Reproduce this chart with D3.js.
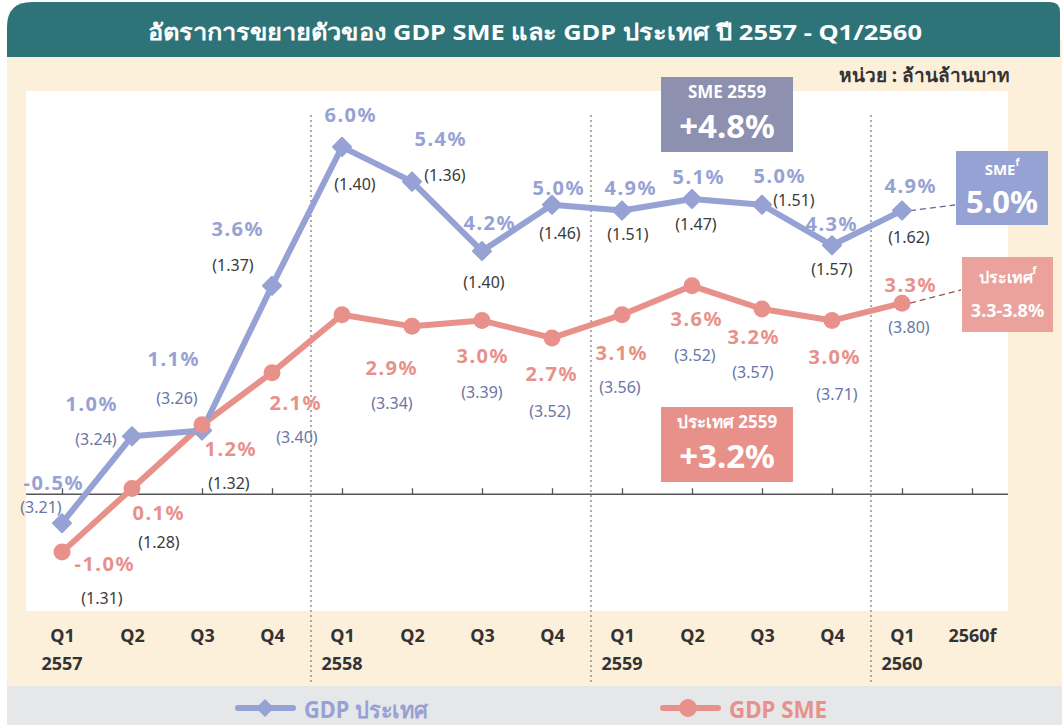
<!DOCTYPE html>
<html>
<head>
<meta charset="utf-8">
<script src="https://cdn.jsdelivr.net/npm/d3@7"></script>
<style>
  html, body { margin: 0; padding: 0; background: #fff; }
  svg { display: block; }
  text { font-family: "Noto Sans", "Open Sans", sans-serif; }
  .cond { font-family: "Liberation Sans Narrow", "Noto Sans", sans-serif; }
</style>
</head>
<body>
<svg id="chart" width="1062" height="725"></svg>
<script>
// ---- data ----
const quarters = ["Q1", "Q2", "Q3", "Q4", "Q1", "Q2", "Q3", "Q4", "Q1", "Q2", "Q3", "Q4", "Q1", "2560f"];
const years = ["2557", "", "", "", "2558", "", "", "", "2559", "", "", "", "2560", ""];
// SME growth (%) and SME GDP (trillion baht)
const smeGrowth = [-0.5, 1.0, 1.1, 3.6, 6.0, 5.4, 4.2, 5.0, 4.9, 5.1, 5.0, 4.3, 4.9];
const smeValue = [1.31, 1.28, 1.32, 1.37, 1.40, 1.36, 1.40, 1.46, 1.51, 1.47, 1.51, 1.57, 1.62];
// country GDP growth (%) and GDP (trillion baht); Q1 2558 has no printed label
const gdpGrowth = [-1.0, 0.1, 1.2, 2.1, 3.1, 2.9, 3.0, 2.7, 3.1, 3.6, 3.2, 3.0, 3.3];
const gdpShown = [true, true, true, true, false, true, true, true, true, true, true, true, true];
const gdpValue = [3.21, 3.24, 3.26, 3.40, null, 3.34, 3.39, 3.52, 3.56, 3.52, 3.57, 3.71, 3.80];
const yearSplits = ["2558", "2559", "2560"];
const title = "อัตราการขยายตัวของ GDP SME และ GDP ประเทศ ปี 2557 - Q1/2560";
const unitText = "หน่วย : ล้านล้านบาท";
const legendNames = ["GDP ประเทศ", "GDP SME"];

// ---- label placement (offsets from each point) ----
const smePctPos = [[-9,-41],[-41,-33],[-29,-72],[-35,-57],[8,-32],[28,-43],[7,-29],[6,-17],[8,-23],[6,-22],[17,-29],[-1,-22],[8,-25]];
const smeValPos = [[40,75],[27,106],[27,52],[-39,-21],[13,37],[33,-7],[2,31],[8,28],[6,23],[4,25],[32,-5],[0,24],[7,26]];
const gdpPctPos = [[42,11],[26,24],[28,24],[23,30],null,[-21,41],[0,35],[-1,36],[-1,38],[4,33],[-9,28],[2,36],[8,-19]];
const gdpValPos = [[-21,-45],[-36,-49],[-25,-27],[25,64],null,[-20,77],[0,71],[-2,73],[-2,72],[3,69],[-9,63],[5,73],[7,24]];

const blue = "#97a2d4", red = "#e8918a", teal = "#2e7377", beige = "#fdf0db";

const svg = d3.select("#chart");

// background panels
svg.append("rect").attr("x", 7).attr("y", 40).attr("width", 1055).attr("height", 646).attr("fill", beige);
svg.append("rect").attr("x", 7).attr("y", 686).attr("width", 1055).attr("height", 39).attr("fill", "#e6e7e9");
svg.append("path")
  .attr("d", "M7,57 V27 Q7,2 32,2 H1050 Q1060,2 1060,12 V57 Z")
  .attr("fill", teal);
svg.append("text")
  .attr("class", "cond")
  .attr("x", 535).attr("y", 31)
  .attr("text-anchor", "middle").attr("dominant-baseline", "central")
  .attr("fill", "#fff").attr("font-size", 22).attr("font-weight", "bold")
  .attr("textLength", 774).attr("lengthAdjust", "spacingAndGlyphs")
  .text(title);
svg.append("text")
  .attr("class", "cond")
  .attr("x", 1010).attr("y", 75)
  .attr("text-anchor", "end").attr("dominant-baseline", "central")
  .attr("fill", "#333").attr("font-size", 19).attr("font-weight", "bold")
  .text(unitText);

// plot area
svg.append("rect").attr("x", 26).attr("y", 91).attr("width", 982).attr("height", 520).attr("fill", "#fff");

const x = d3.scalePoint().domain(d3.range(quarters.length)).range([62, 972]);
const y = d3.scaleLinear().domain([-2, 7]).range([610, 89]);

// year separators
yearSplits.forEach(yr => {
  const xi = x(years.indexOf(yr)) - 31;
  svg.append("line")
    .attr("x1", xi).attr("x2", xi).attr("y1", 115).attr("y2", 685)
    .attr("stroke", "#777").attr("stroke-width", 1.2).attr("stroke-dasharray", "2,3");
});

// zero line with small upward ticks
const axisG = svg.append("g").attr("transform", `translate(0,${y(0)})`)
  .call(d3.axisTop(x).tickSize(6).tickSizeOuter(0).tickFormat(""));
axisG.select(".domain").remove();
axisG.selectAll("line").attr("stroke", "#555").attr("stroke-width", 1.3);
svg.append("line")
  .attr("x1", 26).attr("x2", 1008).attr("y1", y(0)).attr("y2", y(0))
  .attr("stroke", "#555").attr("stroke-width", 1.5);

// category labels
const xAxisG = svg.append("g").attr("transform", "translate(0,626)")
  .call(d3.axisBottom(x).tickSize(0).tickFormat(i => quarters[i]));
xAxisG.select(".domain").remove();
xAxisG.selectAll("text")
  .attr("class", "cond").attr("font-size", 18).attr("font-weight", "bold").attr("fill", "#333");
svg.append("g").selectAll("text").data(years).join("text")
  .attr("class", "cond")
  .attr("x", (d, i) => x(i)).attr("y", 663)
  .attr("text-anchor", "middle").attr("dominant-baseline", "central")
  .attr("font-size", 18).attr("font-weight", "bold").attr("fill", "#333")
  .text(d => d);

// forecast connectors
const last = smeGrowth.length - 1;
svg.append("line")
  .attr("x1", x(last) + 8).attr("y1", y(smeGrowth[last])).attr("x2", 955).attr("y2", 205)
  .attr("stroke", "#5a6a9e").attr("stroke-width", 1.3).attr("stroke-dasharray", "6,4");
svg.append("line")
  .attr("x1", x(last) + 8).attr("y1", y(gdpGrowth[last])).attr("x2", 961).attr("y2", 290)
  .attr("stroke", "#9c514d").attr("stroke-width", 1.3).attr("stroke-dasharray", "6,4");

// lines
const line = d3.line().x((d, i) => x(i)).y(d => y(d));
svg.append("path").datum(gdpGrowth).attr("d", line)
  .attr("fill", "none").attr("stroke", red).attr("stroke-width", 6).attr("stroke-linejoin", "round");
svg.append("path").datum(smeGrowth).attr("d", line)
  .attr("fill", "none").attr("stroke", blue).attr("stroke-width", 6).attr("stroke-linejoin", "round");

// markers
const diamond = d3.symbol().type(d3.symbolDiamond2).size(210);
svg.append("g").selectAll("path").data(smeGrowth).join("path")
  .attr("d", diamond)
  .attr("transform", (d, i) => `translate(${x(i)},${y(d)})`)
  .attr("fill", blue).attr("stroke", blue).attr("stroke-width", 2).attr("stroke-linejoin", "round");
svg.append("g").selectAll("circle").data(gdpGrowth).join("circle")
  .attr("cx", (d, i) => x(i)).attr("cy", d => y(d)).attr("r", 8.5)
  .attr("fill", red);

// value labels
function labels(values, pos, anchorVals, fmt, size, weight, color, spacing) {
  svg.append("g").selectAll("text")
    .data(values.map((v, i) => ({ v, i, p: pos[i] })).filter(d => d.v != null && d.p))
    .join("text")
    .attr("x", d => x(d.i) + d.p[0] + spacing / 2)
    .attr("y", d => y(anchorVals[d.i]) + d.p[1])
    .attr("text-anchor", "middle").attr("dominant-baseline", "central")
    .attr("font-size", size).attr("font-weight", weight).attr("fill", color)
    .attr("letter-spacing", spacing)
    .text(d => fmt(d.v));
}
const pct = v => v.toFixed(1) + "%";
const par = v => "(" + v.toFixed(2) + ")";
labels(smeGrowth, smePctPos, smeGrowth, pct, 20, "bold", blue, 1.5);
labels(smeValue, smeValPos, smeGrowth, par, 16, "normal", "#3a3a3a", 0);
labels(gdpGrowth.map((v, i) => gdpShown[i] ? v : null), gdpPctPos, gdpGrowth, pct, 20, "bold", red, 1.5);
labels(gdpValue, gdpValPos, gdpGrowth, par, 16, "normal", "#6a76a6", 0);

// annotation boxes
const boxes = [
  { x: 661, y: 77, w: 132, h: 75, fill: "#8e90b0", top: "SME 2559", sup: "", big: "+4.8%", topY: 14, bigY: 48, topSize: 17, bigSize: 33 },
  { x: 661, y: 407, w: 132, h: 75, fill: "#e8918a", top: "ประเทศ 2559", sup: "", big: "+3.2%", topY: 14, bigY: 48, topSize: 17, bigSize: 33 },
  { x: 956, y: 151, w: 92, h: 74, fill: "#97a2d4", top: "SME", sup: "f", big: "5.0%", topY: 18, bigY: 50, topSize: 15, bigSize: 31 },
  { x: 962, y: 257, w: 91, h: 75, fill: "#eba29c", top: "ประเทศ", sup: "f", big: "3.3-3.8%", topY: 20, bigY: 53, topSize: 16, bigSize: 18 }
];
boxes.forEach(b => {
  const g = svg.append("g");
  g.append("rect").attr("x", b.x).attr("y", b.y).attr("width", b.w).attr("height", b.h).attr("fill", b.fill);
  const t = g.append("text")
    .attr("x", b.x + b.w / 2).attr("y", b.y + b.topY)
    .attr("text-anchor", "middle").attr("dominant-baseline", "central")
    .attr("fill", "#fff").attr("font-size", b.topSize).attr("font-weight", "bold");
  t.append("tspan").text(b.top);
  if (b.sup) t.append("tspan").attr("font-size", 10).attr("dy", -7).text(b.sup);
  g.append("text")
    .attr("x", b.x + b.w / 2).attr("y", b.y + b.bigY)
    .attr("text-anchor", "middle").attr("dominant-baseline", "central")
    .attr("fill", "#fff").attr("font-size", b.bigSize).attr("font-weight", "bold")
    .text(b.big);
});

// legend
const legend = [
  { name: legendNames[0], color: blue, x0: 238, shape: "diamond", tx: 304, w: 124 },
  { name: legendNames[1], color: red, x0: 663, shape: "circle", tx: 729, w: 98 }
];
legend.forEach(l => {
  const g = svg.append("g");
  g.append("line").attr("x1", l.x0).attr("x2", l.x0 + 55).attr("y1", 708).attr("y2", 708)
    .attr("stroke", l.color).attr("stroke-width", 6).attr("stroke-linecap", "round");
  if (l.shape === "diamond") {
    g.append("path").attr("d", diamond).attr("transform", `translate(${l.x0 + 27},708)`).attr("fill", l.color);
  } else {
    g.append("circle").attr("cx", l.x0 + 25).attr("cy", 708).attr("r", 9).attr("fill", l.color);
  }
  g.append("text").attr("class", "cond")
    .attr("x", l.tx).attr("y", 709).attr("dominant-baseline", "central")
    .attr("font-size", 23).attr("font-weight", "bold").attr("fill", l.color)
    .attr("textLength", l.w).attr("lengthAdjust", "spacingAndGlyphs")
    .text(l.name);
});
</script>
</body>
</html>
